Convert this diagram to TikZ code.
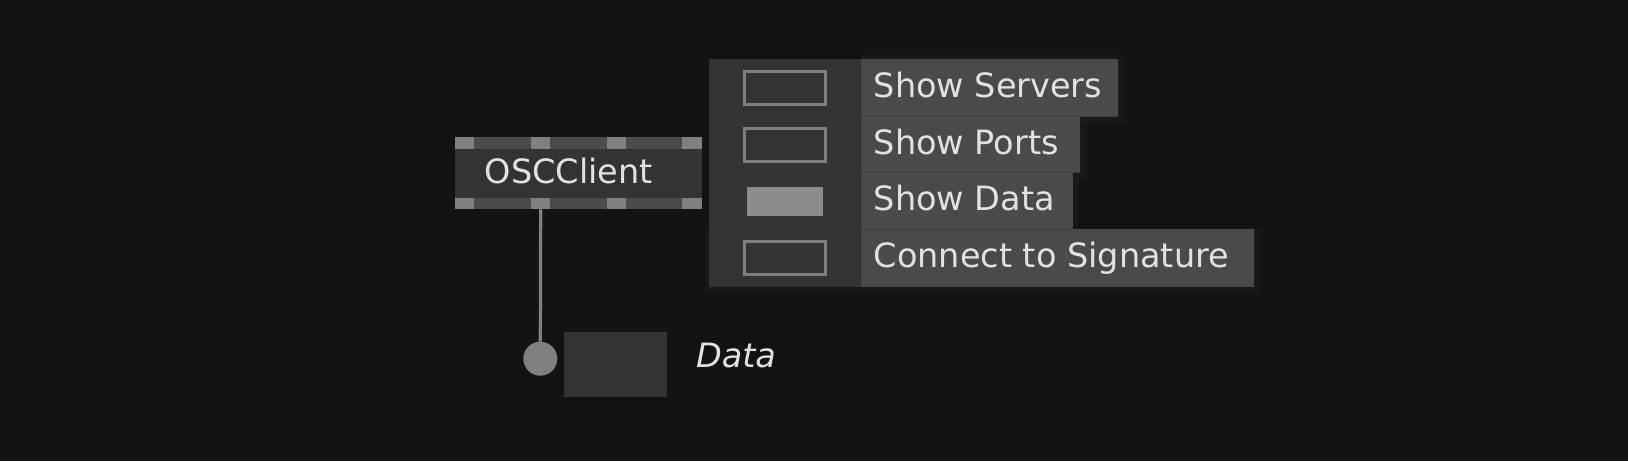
\documentclass[tikz,border=0pt]{standalone}
\usepackage{fontspec}
\setmainfont{DejaVu Sans}
\definecolor{bgc}{HTML}{131313}
\definecolor{panelc}{HTML}{333333}
\definecolor{labelc}{HTML}{4A4A4A}
\definecolor{sepc}{HTML}{3E3E3E}
\definecolor{checkc}{HTML}{7E7E7E}
\definecolor{fillc}{HTML}{8C8C8C}
\definecolor{textc}{HTML}{E2E2E2}
\definecolor{barc}{HTML}{4B4B4B}
\definecolor{pinc}{HTML}{808080}
\definecolor{shadowc}{HTML}{1C1C1C}
\begin{document}
\begin{tikzpicture}[x=1pt,y=-1pt,
  box/.style={draw=none,inner sep=0pt,outer sep=0pt,anchor=north west},
  txt/.style={inner sep=0pt,outer sep=0pt,anchor=base west,text=textc,font=\fontsize{33.5}{40}\selectfont},
  checkbox/.style={draw=checkc,line width=3.2pt,fill=panelc},
  pin/.style={fill=pinc},
  link/.style={draw=pinc,line width=3.2pt},
  softshadow/.style={fill=shadowc,fill opacity=0.35}
]
\useasboundingbox (0,0) rectangle (1628,461);
\fill[bgc] (0,0) rectangle (1628,461);

% ---- OSCClient node ----
\node[box,fill=panelc,minimum width=246.7pt,minimum height=72pt] (osc) at (455,137.3) {};
\fill[barc] (455,137.3) rectangle (701.7,148.7);
\fill[barc] (455,197.7) rectangle (701.7,209.3);
\foreach \px/\nm in {455/a,531/b,606.7/c,682.3/d}{
  \node[box,pin,minimum width=19.4pt,minimum height=11.4pt] (pt\nm) at (\px,137.3) {};
  \node[box,pin,minimum width=19.4pt,minimum height=11.6pt] (pb\nm) at (\px,197.7) {};
}
\node[txt] (osct) at (484.8,183.3) {OSCClient};

% ---- menu shadows (soft) ----
\foreach \d in {2,4,6,8}{
  \fill[softshadow] (860.7,59.3-\d/2) rectangle (1117.7+\d,116+\d);
  \fill[softshadow] (860.7,116) rectangle (1080+\d,172.7+\d);
  \fill[softshadow] (860.7,172.7) rectangle (1072.3+\d,229.4+\d);
  \fill[softshadow] (708.7-\d/2,229.4) rectangle (1254.3+\d,286.7+\d);
}

% ---- menu panel ----
\node[box,fill=panelc,minimum width=152pt,minimum height=227.4pt] (panel) at (708.7,59.3) {};
\node[box,fill=labelc,minimum width=257pt,minimum height=56.7pt] (lA) at (860.7,59.3) {};
\node[box,fill=labelc,minimum width=219.3pt,minimum height=56.7pt] (lB) at (860.7,116) {};
\node[box,fill=labelc,minimum width=211.8pt,minimum height=56.7pt] (lC) at (860.7,172.7) {};
\node[box,fill=labelc,minimum width=393.6pt,minimum height=57.3pt] (lD) at (860.7,229.4) {};
\draw[sepc,line width=1pt] (lB.north west) -- (lA.south east |- lB.north);
\draw[sepc,line width=1pt] (lC.north west) -- (lB.south east |- lC.north);
\draw[sepc,line width=1pt] (lD.north west) -- (lC.south east |- lD.north);

\node[txt] (tA) at (873.8,97.3) {Show Servers};
\node[txt] (tB) at (873.8,154) {Show Ports};
\node[txt] (tC) at (873.8,210.7) {Show Data};
\node[txt] (tD) at (873.8,267.8) {Connect to Signature};

% ---- checkboxes ----
\node[box,checkbox,minimum width=81pt,minimum height=33pt] (cA) at (744.2,71.5) {};
\node[box,checkbox,minimum width=81pt,minimum height=33pt] (cB) at (744.2,128.2) {};
\node[box,fill=fillc,minimum width=76pt,minimum height=28.4pt] (cC) at (746.7,187.3) {};
\node[box,checkbox,minimum width=81pt,minimum height=33pt] (cD) at (744.2,241.8) {};

% ---- output pin and data ----
\node[circle,fill=pinc,inner sep=0pt,outer sep=0pt,minimum size=34pt] (dot) at (540.3,358.7) {};
\draw[link] (ptb.center |- pbb.south) -- (dot.north);
\node[box,fill=panelc,minimum width=103pt,minimum height=65pt] (dbox) at (564.3,331.7) {};
\node[txt,font=\fontsize{33.5}{40}\selectfont\itshape] (dt) at (696,367.3) {Data};
\end{tikzpicture}
\end{document}
